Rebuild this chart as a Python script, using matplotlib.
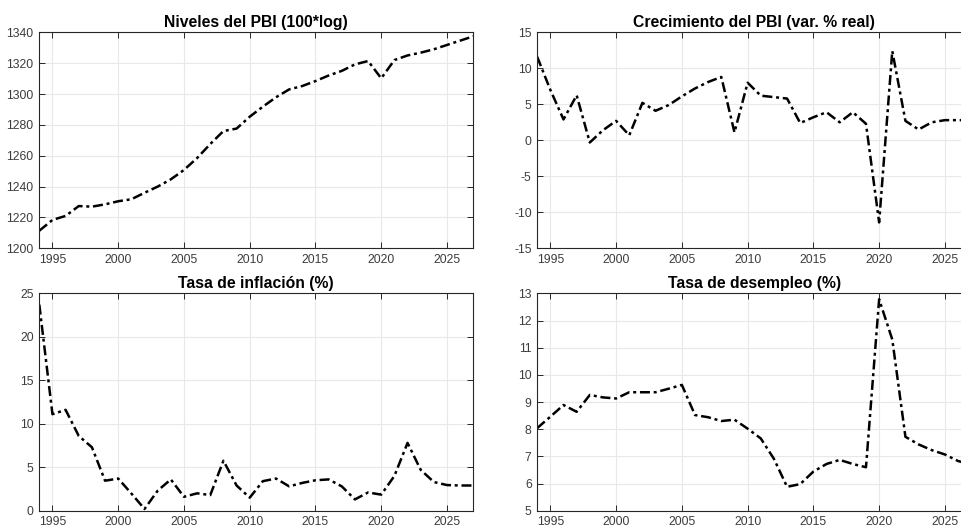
# -*- coding: utf-8 -*-
# Panel macro: PBI, crecimiento, inflacion y desempleo

import matplotlib
matplotlib.use('Agg')
import matplotlib.pyplot as plt

# Datos
anios = list(range(1994, 2028))

pbi_nivel = [1211.4, 1218.4, 1221.0, 1227.4, 1227.0, 1228.5, 1230.5, 1231.8,
             1236.0, 1240.0, 1244.7, 1250.8, 1258.5, 1267.6, 1276.0, 1277.6,
             1285.3, 1291.8, 1297.9, 1303.0, 1305.2, 1308.4, 1312.0, 1315.0,
             1319.2, 1321.4, 1310.2, 1322.0, 1325.0, 1326.8, 1329.0, 1331.8,
             1334.6, 1337.4]

pbi_crec = [11.6, 7.0, 2.9, 6.25, -0.3, 1.4, 2.7, 0.7, 5.2, 4.1, 4.9, 6.1,
            7.2, 8.1, 8.8, 1.1, 8.0, 6.2, 6.0, 5.8, 2.4, 3.2, 3.9, 2.5, 3.9,
            2.3, -11.4, 12.4, 2.7, 1.5, 2.5, 2.8, 2.8, 2.8]

inflacion = [23.7, 11.1, 11.6, 8.6, 7.3, 3.45, 3.7, 1.98, 0.2, 2.3, 3.6, 1.6,
             2.0, 1.8, 5.75, 2.9, 1.5, 3.4, 3.7, 2.8, 3.2, 3.5, 3.6, 2.8, 1.3,
             2.1, 1.85, 4.0, 7.8, 4.7, 3.3, 2.95, 2.9, 2.9]

desempleo = [8.04, 8.46, 8.89, 8.64, 9.26, 9.17, 9.13, 9.36, 9.36, 9.36, 9.49,
             9.63, 8.52, 8.44, 8.30, 8.35, 8.02, 7.66, 6.91, 5.88, 5.98, 6.44,
             6.72, 6.87, 6.72, 6.60, 12.78, 11.30, 7.72, 7.44, 7.23, 7.07, 6.83,
             6.70]

titulos = ['Niveles del PBI (100*log)', 'Crecimiento del PBI (var. % real)',
           'Tasa de inflación (%)', 'Tasa de desempleo (%)']
series = [pbi_nivel, pbi_crec, inflacion, desempleo]
ylims = [(1200, 1340), (-15, 15), (0, 25), (5, 13)]
yticks = [range(1200, 1341, 20), range(-15, 16, 5), range(0, 26, 5), range(5, 14)]
xticks = [1995, 2000, 2005, 2010, 2015, 2020, 2025]

# posiciones de los ejes (el panel derecho queda cortado por el borde)
posiciones = [[0.0409, 0.5288, 0.4516, 0.4099],
              [0.5590, 0.5288, 0.4516, 0.4099],
              [0.0409, 0.0309, 0.4516, 0.4125],
              [0.5590, 0.0309, 0.4516, 0.4125]]

plt.rcParams['font.family'] = ['Liberation Sans', 'DejaVu Sans']
plt.rcParams['axes.unicode_minus'] = False

fig = plt.figure(figsize=(9.61, 5.27), dpi=100)

for i in range(4):
    ax = fig.add_axes(posiciones[i])
    ax.plot(anios, series[i], color='black', linestyle='-.', linewidth=1.8,
            dashes=(4, 1.5, 1.2, 1.5))
    ax.set_xlim(1994, 2027)
    ax.set_ylim(*ylims[i])
    ax.set_xticks(xticks)
    ax.set_yticks(list(yticks[i]))
    ax.grid(True, color='#e8e8e8', linewidth=0.8)
    ax.set_axisbelow(True)
    ax.tick_params(direction='in', top=True, right=True, length=4, pad=4,
                   labelsize=8.8, labelcolor='#3c3c3c', color='#262626', width=0.7)
    for lado in ax.spines.values():
        lado.set_color('#262626')
        lado.set_linewidth(0.8)
    ax.set_title(titulos[i], fontsize=11.3, fontweight='bold', pad=4)

plt.savefig('out.png', dpi=100)
